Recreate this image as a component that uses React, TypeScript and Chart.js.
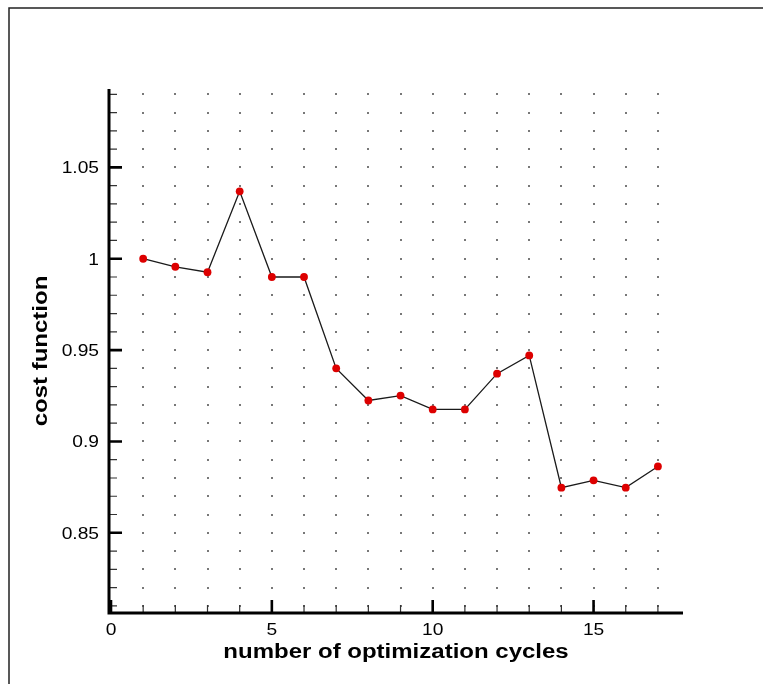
import React, { useEffect, useRef } from "react";
import { Chart, registerables } from "chart.js";

Chart.register(...registerables);

// Optimization history
const cycles = [1, 2, 3, 4, 5, 6, 7, 8, 9, 10, 11, 12, 13, 14, 15, 16, 17];
const costValues = [
  1.0, 0.9956, 0.9926, 1.0369, 0.99, 0.99, 0.94, 0.9224, 0.9251, 0.9175,
  0.9175, 0.9371, 0.9471, 0.8747, 0.8787, 0.8747, 0.8863,
];

// Axis ticks
const xMajorTicks = [0, 5, 10, 15];
const xTickLabels = ["0", "5", "10", "15"];
const xMinorTicks = [1, 2, 3, 4, 6, 7, 8, 9, 11, 12, 13, 14, 16, 17];
const yMajorTicks = [0.85, 0.9, 0.95, 1.0, 1.05];
const yTickLabels = ["0.85", "0.9", "0.95", "1", "1.05"];
const yMinorHundredths = [
  81, 82, 83, 84, 86, 87, 88, 89, 91, 92, 93, 94, 96, 97, 98, 99, 101, 102,
  103, 104, 106, 107, 108, 109,
];
const gridDotHundredths = [
  81, 82, 83, 84, 85, 86, 87, 88, 89, 90, 91, 92, 93, 94, 95, 96, 97, 98, 99,
  100, 101, 102, 103, 104, 105, 106, 107, 108, 109,
];

const xTitle = "number of optimization cycles";
const yTitle = "cost function";

const FONT = "'Liberation Sans', Arial, sans-serif";
const STRETCH = 1.2;

function stretchedText(
  ctx: CanvasRenderingContext2D,
  text: string,
  x: number,
  y: number,
  align: CanvasTextAlign,
  rotate = 0
) {
  ctx.save();
  ctx.translate(x, y);
  if (rotate) ctx.rotate(rotate);
  ctx.scale(STRETCH, 1);
  ctx.textAlign = align;
  ctx.fillText(text, 0, 0);
  ctx.restore();
}

const framePlugin = {
  id: "frameAxes",
  beforeDatasetsDraw(chart: any) {
    const { ctx, chartArea } = chart;
    const xs = chart.scales.x;
    const ys = chart.scales.y;
    const { left, right, top, bottom } = chartArea;

    ctx.save();

    // outer frame (left and top edges)
    ctx.strokeStyle = "#222";
    ctx.lineWidth = 1.5;
    ctx.beginPath();
    ctx.moveTo(9, chart.height);
    ctx.lineTo(9, 8);
    ctx.lineTo(chart.width, 8);
    ctx.stroke();

    // dotted grid at every intersection
    ctx.fillStyle = "#111";
    for (const c of cycles) {
      const px = xs.getPixelForValue(c);
      for (const h of gridDotHundredths) {
        const py = ys.getPixelForValue(h / 100);
        ctx.fillRect(Math.round(px) - 0.75, Math.round(py) - 0.75, 1.5, 1.5);
      }
    }

    // minor ticks
    ctx.strokeStyle = "#333";
    ctx.lineWidth = 1.2;
    ctx.beginPath();
    for (const h of yMinorHundredths) {
      const py = ys.getPixelForValue(h / 100);
      ctx.moveTo(left, py);
      ctx.lineTo(left + 8, py);
    }
    for (const c of xMinorTicks) {
      const px = xs.getPixelForValue(c);
      ctx.moveTo(px, bottom);
      ctx.lineTo(px, bottom - 8);
    }
    ctx.stroke();

    // major ticks
    ctx.strokeStyle = "#000";
    ctx.lineWidth = 2.6;
    ctx.beginPath();
    for (const v of yMajorTicks) {
      const py = ys.getPixelForValue(v);
      ctx.moveTo(left, py);
      ctx.lineTo(left + 13, py);
    }
    for (const v of xMajorTicks) {
      const px = xs.getPixelForValue(v);
      ctx.moveTo(px, bottom);
      ctx.lineTo(px, bottom - 13);
    }
    ctx.stroke();

    // axis lines
    ctx.lineWidth = 3;
    ctx.beginPath();
    ctx.moveTo(left, top);
    ctx.lineTo(left, bottom + 1.5);
    ctx.moveTo(left - 1.5, bottom);
    ctx.lineTo(right, bottom);
    ctx.stroke();

    // tick labels
    ctx.fillStyle = "#000";
    ctx.font = `16px ${FONT}`;
    ctx.textBaseline = "middle";
    yMajorTicks.forEach((v, i) => {
      const py = ys.getPixelForValue(v);
      stretchedText(ctx, yTickLabels[i], left - 10, py + 1.5, "right");
    });
    ctx.textBaseline = "alphabetic";
    xMajorTicks.forEach((v, i) => {
      const px = xs.getPixelForValue(v);
      stretchedText(ctx, xTickLabels[i], px, bottom + 22, "center");
    });

    // axis titles
    ctx.font = `bold 20px ${FONT}`;
    stretchedText(ctx, xTitle, (left + right) / 2, bottom + 45, "center");
    stretchedText(ctx, yTitle, 47, (top + bottom) / 2, "center", -Math.PI / 2);

    ctx.restore();
  },
};

export default function App() {
  const canvasRef = useRef<HTMLCanvasElement>(null);

  useEffect(() => {
    const canvas = canvasRef.current;
    if (!canvas) return;
    const chart = new Chart(canvas, {
      type: "line",
      data: {
        datasets: [
          {
            data: cycles.map((c, i) => ({ x: c, y: costValues[i] })),
            borderColor: "#1a1a1a",
            borderWidth: 1.3,
            pointRadius: 3.9,
            pointBackgroundColor: "#dd0000",
            pointBorderColor: "#dd0000",
            pointBorderWidth: 0,
            tension: 0,
            clip: false as any,
          },
        ],
      },
      options: {
        animation: false,
        responsive: false,
        maintainAspectRatio: false,
        devicePixelRatio: 1,
        layout: { padding: { left: 109, top: 89, right: 80, bottom: 71 } },
        plugins: {
          legend: { display: false },
          tooltip: { enabled: false },
        },
        scales: {
          x: { type: "linear", display: false, min: -0.062, max: 17.78 },
          y: { type: "linear", display: false, min: 0.8061, max: 1.0929 },
        },
      },
      plugins: [framePlugin],
    });
    return () => chart.destroy();
  }, []);

  return (
    <div
      style={{
        position: "fixed",
        left: 0,
        top: 0,
        width: 763,
        height: 684,
        background: "#fff",
      }}
    >
      <canvas ref={canvasRef} width={763} height={684} style={{ width: 763, height: 684 }} />
    </div>
  );
}
